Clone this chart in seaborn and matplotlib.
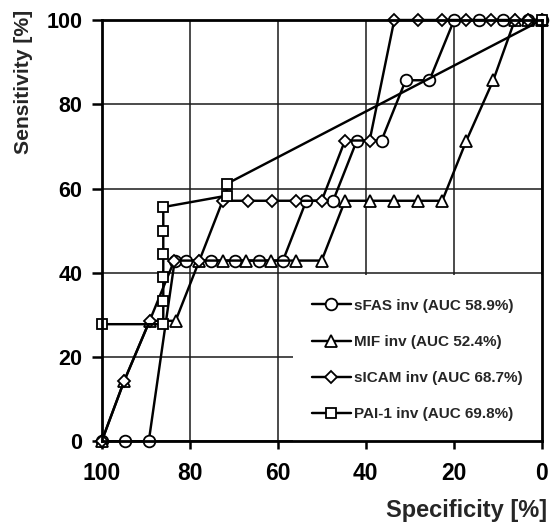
import matplotlib
matplotlib.use("Agg")
import matplotlib.pyplot as plt
from matplotlib import font_manager
from matplotlib.patches import Rectangle
import seaborn as sns
import pandas as pd

# ROC points (specificity %, sensitivity %)
spec_sfas = [100, 94.7, 89.3, 83.4, 80.8, 75.1, 69.8, 64.3, 58.8, 53.5, 47.4,
             42.0, 36.4, 30.9, 25.5, 19.9, 14.3, 8.8, 3.1, 0]
sens_sfas = [0, 0, 0, 42.9, 42.9, 42.9, 42.9, 42.9, 42.9, 57.1, 57.1,
             71.4, 71.4, 85.7, 85.7, 100, 100, 100, 100, 100]

spec_mif = [100, 94.9, 89.1, 83.2, 77.8, 72.5, 67.1, 61.5, 55.9, 50.0, 44.7,
            39.1, 33.6, 28.2, 22.6, 17.1, 11.0, 6.1, 3.0, 0]
sens_mif = [0, 14.3, 28.6, 28.6, 42.9, 42.9, 42.9, 42.9, 42.9, 42.9, 57.1,
            57.1, 57.1, 57.1, 57.1, 71.4, 85.7, 100, 100, 100]

spec_sicam = [100, 94.9, 89.1, 83.5, 77.8, 72.5, 66.8, 61.3, 55.9, 50.0, 44.7,
              39.1, 33.5, 28.2, 22.6, 17.1, 11.5, 6.0, 3.1, 0]
sens_sicam = [0, 14.3, 28.6, 42.9, 42.9, 57.1, 57.1, 57.1, 57.1, 57.1, 71.4,
              71.4, 100, 100, 100, 100, 100, 100, 100, 100]

spec_pai = [100, 86.0, 86.0, 86.0, 86.0, 86.0, 86.0, 71.6, 71.6, 0]
sens_pai = [27.8, 27.8, 33.3, 38.9, 44.4, 50.0, 55.6, 58.3, 61.1, 100]

labels = ["sFAS inv (AUC 58.9%)", "MIF inv (AUC 52.4%)",
          "sICAM inv (AUC 68.7%)", "PAI-1 inv (AUC 69.8%)"]
ticks = [0, 20, 40, 60, 80, 100]

sns.set_style("ticks")
plt.rcParams["font.family"] = ["Liberation Sans", "DejaVu Sans"]
plt.rcParams["font.weight"] = "bold"

installed = {f.name for f in font_manager.fontManager.ttflist}
narrow = "Liberation Sans Narrow" if "Liberation Sans Narrow" in installed else "Liberation Sans"

fig = plt.figure(figsize=(5.52, 5.24), dpi=100)
ax = fig.add_axes([0.1842, 0.1578, 0.7971, 0.8040])

series = [
    (spec_sfas, sens_sfas, "o", 8.4),
    (spec_mif, sens_mif, "^", 8.0),
    (spec_sicam, sens_sicam, "D", 6.0),
    (spec_pai, sens_pai, "s", 6.8),
]
for (sx, sy, mk, ms), name in zip(series, labels):
    df = pd.DataFrame({"spec": sx, "sens": sy})
    sns.lineplot(data=df, x="spec", y="sens", sort=False, estimator=None,
                 color="black", lw=1.75, marker=mk, markersize=ms,
                 markerfacecolor="white", markeredgecolor="black",
                 markeredgewidth=1.3, clip_on=False, label=name,
                 legend=False, ax=ax)

ax.set_xlim(100, 0)
ax.set_ylim(0, 100)
ax.set_xticks(ticks)
ax.set_yticks(ticks)
ax.set_axisbelow(True)
ax.grid(True, color="#1a1a1a", lw=1.1)
for s in ax.spines.values():
    s.set_visible(True)
    s.set_linewidth(2.0)
    s.set_color("black")

# white area behind the legend hides the grid there
ax.add_patch(Rectangle((0.435, 0), 0.565, 0.395, transform=ax.transAxes,
                       facecolor="white", edgecolor="none", zorder=1))

ax.tick_params(axis="x", direction="out", length=6, width=1.8, pad=9,
               labelsize=16.5, colors="black")
ax.tick_params(axis="y", direction="out", length=7, width=1.8, pad=7,
               labelsize=15.5, colors="black")
for t in ax.get_yticklabels():
    t.set_family(narrow)
    t.set_fontweight("bold")
for t in ax.get_xticklabels():
    t.set_fontweight("bold")

ax.set_xlabel("Specificity [%]", fontsize=17, fontweight="bold",
              ha="right", va="baseline")
ax.xaxis.set_label_coords(1.012, -0.179)
ax.set_ylabel("Sensitivity [%]", fontsize=15.2, fontweight="bold",
              ha="right", va="center")
ax.yaxis.set_label_coords(-0.178, 1.024)

handles, names = ax.get_legend_handles_labels()
ax.legend(handles, names, loc="center left", bbox_to_anchor=(0.477, 0.193),
          frameon=False, borderpad=0, borderaxespad=0, handlelength=2.6,
          handletextpad=0.2, labelspacing=1.45,
          prop={"size": 11, "weight": "bold"})

fig.savefig("out.png", dpi=100)
